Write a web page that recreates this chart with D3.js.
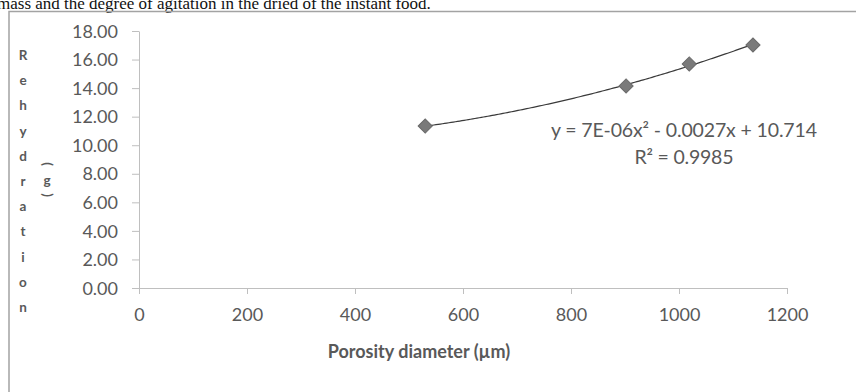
<!DOCTYPE html>
<html>
<head>
<meta charset="utf-8">
<script src="https://cdn.jsdelivr.net/npm/d3@7"></script>
<style>
  html, body { margin: 0; padding: 0; background: #fff; }
  svg { display: block; }
</style>
</head>
<body>
<svg id="chart" width="856" height="392"></svg>
<script>
// Measured samples: pore diameter (µm) against rehydration mass (g)
const porosity = [530, 902, 1019, 1137];
const rehydration = [11.34, 14.15, 15.69, 17.02];

const xTicks = [0, 200, 400, 600, 800, 1000, 1200];
const yTicks = [0, 2, 4, 6, 8, 10, 12, 14, 16, 18];

const yTitleLetters = ["R", "e", "h", "y", "d", "r", "a", "t", "i", "o", "n"];
const unitChars = ["(", "g", ")"];
const xTitle = "Porosity diameter (µm)";
const equationText = "y = 7E-06x² - 0.0027x + 10.714";
const r2Text = "R² = 0.9985";
const captionText = "mass and the degree of agitation in the dried of the instant food.";

const svg = d3.select("#chart");
const textColor = "#595959";
const axisColor = "#bfbfbf";
const font = "Lato, 'Open Sans', sans-serif";

// caption line running above the figure frame
svg.append("text")
  .attr("x", -3).attr("y", 9)
  .attr("font-family", "'Liberation Serif', 'Times New Roman', serif")
  .attr("font-size", 17)
  .attr("fill", "#111")
  .text(captionText);

// chart frame (continues past the right and bottom edges)
svg.append("rect")
  .attr("x", 9).attr("y", 11.5)
  .attr("width", 900).attr("height", 420)
  .attr("fill", "none")
  .attr("stroke", "#a3a3a3")
  .attr("stroke-width", 1.5);

const x = d3.scaleLinear().domain([0, 1200]).range([139, 787]);
const y = d3.scaleLinear().domain([0, 18]).range([288, 31]);

// y axis
const yAxis = svg.append("g")
  .attr("transform", `translate(${x(0)},0)`)
  .call(d3.axisLeft(y).tickValues(yTicks).tickFormat(d3.format(".2f")).tickSize(7).tickSizeOuter(0).tickPadding(14));
yAxis.select(".domain").attr("stroke", axisColor);
yAxis.selectAll(".tick line").attr("stroke", axisColor);
yAxis.selectAll(".tick text")
  .attr("fill", textColor).attr("font-family", font).attr("font-size", 18)
  .attr("dy", "0.34em");

// x axis
const xAxis = svg.append("g")
  .attr("transform", `translate(0,${y(0)})`)
  .call(d3.axisBottom(x).tickValues(xTicks).tickFormat(d3.format("d")).tickSize(6).tickSizeOuter(0).tickPadding(14));
xAxis.select(".domain").attr("stroke", axisColor);
xAxis.selectAll(".tick line").attr("stroke", axisColor);
xAxis.selectAll(".tick text")
  .attr("fill", textColor).attr("font-family", font).attr("font-size", 18);

// x axis title
svg.append("text")
  .attr("x", 419).attr("y", 358)
  .attr("text-anchor", "middle")
  .attr("font-family", font).attr("font-size", 18).attr("font-weight", "bold")
  .attr("fill", textColor)
  .text(xTitle);

// y axis title, stacked letters
svg.append("g").selectAll("text")
  .data(yTitleLetters)
  .join("text")
  .attr("x", 23)
  .attr("y", (d, i) => 60 + i * 25.2)
  .attr("text-anchor", "middle")
  .attr("font-family", font).attr("font-size", 13.5).attr("font-weight", "bold")
  .attr("fill", textColor)
  .text(d => d);

// unit "(g)" with turned brackets
const unitY = [164, 181, 195];
svg.append("g").selectAll("text")
  .data(unitChars)
  .join("text")
  .attr("transform", (d, i) => `translate(47,${unitY[i]}) rotate(${d === "g" ? 0 : 90})`)
  .attr("text-anchor", "middle")
  .attr("dy", "0.32em")
  .attr("font-family", font).attr("font-size", 13.5).attr("font-weight", "bold")
  .attr("fill", textColor)
  .text(d => d);

// second-order polynomial trend fitted by least squares
function quadFit(xs, ys) {
  const n = xs.length;
  let s = [0, 0, 0, 0, 0], t = [0, 0, 0];
  for (let i = 0; i < n; i++) {
    const xi = xs[i], yi = ys[i];
    for (let k = 0; k <= 4; k++) s[k] += Math.pow(xi, k);
    for (let k = 0; k <= 2; k++) t[k] += yi * Math.pow(xi, k);
  }
  // solve [[s0 s1 s2][s1 s2 s3][s2 s3 s4]] [c0 c1 c2] = t
  const A = [[s[0], s[1], s[2], t[0]], [s[1], s[2], s[3], t[1]], [s[2], s[3], s[4], t[2]]];
  for (let c = 0; c < 3; c++) {
    let p = c;
    for (let r = c + 1; r < 3; r++) if (Math.abs(A[r][c]) > Math.abs(A[p][c])) p = r;
    [A[c], A[p]] = [A[p], A[c]];
    for (let r = 0; r < 3; r++) {
      if (r === c) continue;
      const f = A[r][c] / A[c][c];
      for (let k = c; k < 4; k++) A[r][k] -= f * A[c][k];
    }
  }
  return [A[0][3] / A[0][0], A[1][3] / A[1][1], A[2][3] / A[2][2]];
}
const coef = quadFit(porosity, rehydration);
const trendX = d3.range(d3.min(porosity), d3.max(porosity), 4).concat([d3.max(porosity)]);
const trend = trendX.map(v => [v, coef[0] + coef[1] * v + coef[2] * v * v]);

svg.append("path")
  .datum(trend)
  .attr("fill", "none")
  .attr("stroke", "#3a3a3a")
  .attr("stroke-width", 1.2)
  .attr("d", d3.line().x(d => x(d[0])).y(d => y(d[1])));

// diamond markers
const diamond = d3.symbol().type(d3.symbolSquare).size(100);
svg.append("g").selectAll("path")
  .data(porosity.map((v, i) => [v, rehydration[i]]))
  .join("path")
  .attr("transform", d => `translate(${x(d[0])},${y(d[1])}) rotate(45)`)
  .attr("d", diamond)
  .attr("fill", "#7a7a7a")
  .attr("stroke", "#6a6a6a")
  .attr("stroke-width", 1);

// trendline equation and fit quality
svg.append("text")
  .attr("x", 684).attr("y", 137)
  .attr("text-anchor", "middle")
  .attr("font-family", font).attr("font-size", 19.5)
  .attr("textLength", 266).attr("lengthAdjust", "spacing")
  .attr("fill", textColor)
  .text(equationText);
svg.append("text")
  .attr("x", 684).attr("y", 164)
  .attr("text-anchor", "middle")
  .attr("font-family", font).attr("font-size", 19.5)
  .attr("textLength", 99).attr("lengthAdjust", "spacing")
  .attr("fill", textColor)
  .text(r2Text);
</script>
</body>
</html>
